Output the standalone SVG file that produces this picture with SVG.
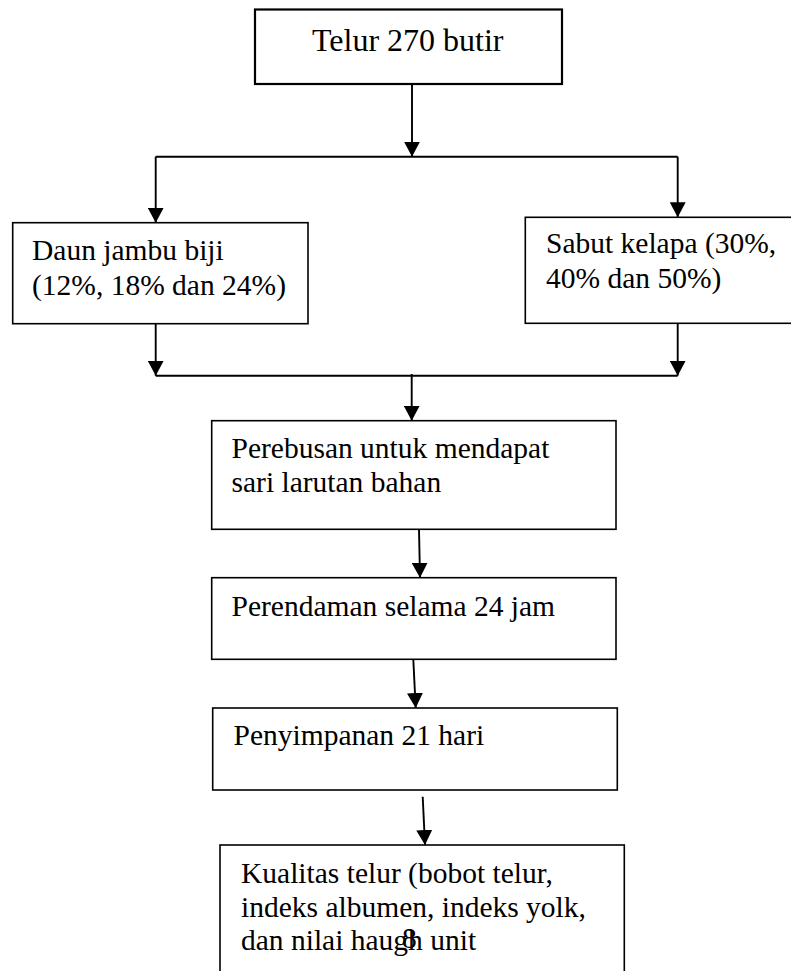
<svg xmlns="http://www.w3.org/2000/svg" width="791" height="971" viewBox="0 0 791 971">
<style>
.box{fill:#fff;stroke:#000;stroke-width:1.6}
.t{font-family:"Liberation Serif","Times New Roman",serif;font-size:29.5px;fill:#000}
.big{font-size:32px}
.c{fill:none;stroke:#000;stroke-width:1.9}
</style>
<defs>
<marker id="ah" markerUnits="userSpaceOnUse" markerWidth="15" markerHeight="16" refX="15" refY="8" orient="auto">
<path d="M0,0 L15,8 L0,16 z" fill="#000"/>
</marker>
</defs>
<rect width="791" height="971" fill="#fff"/>
<g id="n1"><rect class="box" x="255" y="9.5" width="307" height="74.5" style="stroke-width:2.2"/><text class="t big" x="312" y="51">Telur 270 butir</text></g>
<g id="n2"><rect class="box" x="12.7" y="222.7" width="295.3" height="101"/><text class="t" x="32" y="260">Daun jambu biji</text><text class="t" x="32" y="295">(12%, 18% dan 24%)</text></g>
<g id="n3"><rect class="box" x="525.3" y="217.3" width="280" height="106"/><text class="t" x="546" y="253">Sabut kelapa (30%,</text><text class="t" x="546" y="288">40% dan 50%)</text></g>
<g id="n4"><rect class="box" x="211.7" y="420.7" width="404.3" height="108.6"/><text class="t" x="231.5" y="458.3">Perebusan untuk mendapat</text><text class="t" x="231.5" y="491.7">sari larutan bahan</text></g>
<g id="n5"><rect class="box" x="211.7" y="577.7" width="404.3" height="81.6"/><text class="t" x="231.5" y="616">Perendaman selama 24 jam</text></g>
<g id="n6"><rect class="box" x="212.7" y="708" width="404.6" height="82"/><text class="t" x="233.5" y="745">Penyimpanan 21 hari</text></g>
<g id="n7"><rect class="box" x="220" y="845" width="404.3" height="140"/><text class="t" x="241" y="882.7">Kualitas telur (bobot telur,</text><text class="t" x="241" y="916.7">indeks albumen, indeks yolk,</text><text class="t" x="241" y="950">dan nilai haugh unit</text></g>
<g id="pagenum"><text class="t" x="402" y="948.3">8</text></g>
<g id="connectors">
<path class="c" d="M412,84 L412,156.7" marker-end="url(#ah)"/>
<path class="c" d="M155.7,156.7 L677.7,156.7"/>
<path class="c" d="M155.7,156.7 L155.7,222.7" marker-end="url(#ah)"/>
<path class="c" d="M677.7,156.7 L677.7,217.3" marker-end="url(#ah)"/>
<path class="c" d="M155.7,323.7 L155.7,375.7" marker-end="url(#ah)"/>
<path class="c" d="M677.7,323.3 L677.7,375.7" marker-end="url(#ah)"/>
<path class="c" d="M155.7,375.7 L677.7,375.7"/>
<path class="c" d="M411.7,374 L411.7,420.7" marker-end="url(#ah)"/>
<path class="c" d="M419,529.3 L420,577.7" marker-end="url(#ah)"/>
<path class="c" d="M413.3,659.3 L415.7,708" marker-end="url(#ah)"/>
<path class="c" d="M422.7,796.7 L425,845" marker-end="url(#ah)"/>
</g>
</svg>
